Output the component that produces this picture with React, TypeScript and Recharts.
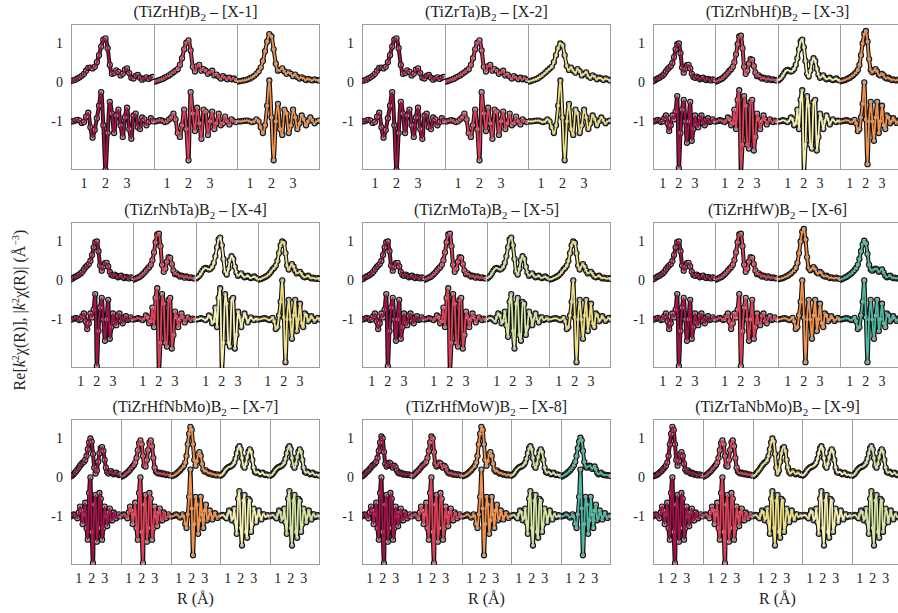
import { LineChart, Line, XAxis, YAxis } from "recharts";

// R grid (Å) shared by every sub-panel
const rGrid = [
  0.4, 0.5, 0.6, 0.7, 0.8, 0.9, 1.0, 1.1, 1.2, 1.3,
  1.4, 1.5, 1.6, 1.7, 1.8, 1.9, 2.0, 2.1, 2.2, 2.3,
  2.4, 2.5, 2.6, 2.7, 2.8, 2.9, 3.0, 3.1, 3.2, 3.3,
  3.4, 3.5, 3.6, 3.7, 3.8, 3.9, 4.0, 4.1, 4.2,
];

// |k²χ(R)| curves
const magA = [
  0.04, 0.05, 0.07, 0.1, 0.13, 0.17, 0.22, 0.3, 0.37, 0.38,
  0.36, 0.4, 0.52, 0.7, 0.92, 1.1, 1.13, 0.88, 0.45, 0.22,
  0.24, 0.31, 0.27, 0.18, 0.22, 0.33, 0.36, 0.24, 0.12, 0.1,
  0.17, 0.19, 0.12, 0.07, 0.1, 0.13, 0.09, 0.12, 0.14,
];
const magB = [
  0.02, 0.03, 0.05, 0.07, 0.09, 0.12, 0.15, 0.18, 0.22, 0.26,
  0.3, 0.34, 0.45, 0.62, 0.85, 1.02, 1.08, 0.82, 0.4, 0.28,
  0.42, 0.45, 0.3, 0.34, 0.3, 0.22, 0.26, 0.3, 0.18, 0.2,
  0.15, 0.1, 0.16, 0.12, 0.08, 0.12, 0.08, 0.1, 0.06,
];
const magC = [
  0.02, 0.03, 0.04, 0.05, 0.06, 0.08, 0.1, 0.13, 0.17, 0.22,
  0.28, 0.38, 0.55, 0.8, 1.05, 1.24, 1.18, 0.85, 0.48, 0.3,
  0.32, 0.36, 0.28, 0.22, 0.26, 0.22, 0.16, 0.2, 0.14, 0.1,
  0.13, 0.1, 0.06, 0.09, 0.07, 0.05, 0.08, 0.06, 0.05,
];
const magD = [
  0.02, 0.03, 0.05, 0.07, 0.09, 0.12, 0.16, 0.2, 0.25, 0.3,
  0.35, 0.4, 0.52, 0.7, 0.88, 1.0, 0.95, 0.7, 0.42, 0.32,
  0.38, 0.3, 0.25, 0.34, 0.28, 0.18, 0.22, 0.26, 0.16, 0.12,
  0.18, 0.14, 0.08, 0.12, 0.1, 0.06, 0.1, 0.08, 0.05,
];
const magE = [
  0.03, 0.05, 0.08, 0.1, 0.12, 0.15, 0.18, 0.22, 0.28, 0.34,
  0.38, 0.42, 0.5, 0.65, 0.85, 0.98, 1.0, 0.75, 0.38, 0.25,
  0.35, 0.44, 0.45, 0.36, 0.22, 0.14, 0.12, 0.15, 0.12, 0.08,
  0.1, 0.12, 0.08, 0.06, 0.09, 0.07, 0.05, 0.08, 0.06,
];
const magF = [
  0.02, 0.03, 0.05, 0.07, 0.09, 0.12, 0.16, 0.2, 0.25, 0.3,
  0.34, 0.4, 0.52, 0.72, 0.98, 1.18, 1.2, 0.88, 0.4, 0.22,
  0.3, 0.48, 0.6, 0.58, 0.42, 0.25, 0.16, 0.18, 0.14, 0.1,
  0.12, 0.1, 0.07, 0.1, 0.08, 0.06, 0.08, 0.06, 0.05,
];
const magG = [
  0.05, 0.08, 0.12, 0.18, 0.25, 0.3, 0.32, 0.3, 0.28, 0.3,
  0.35, 0.45, 0.62, 0.85, 1.05, 1.1, 0.9, 0.55, 0.22, 0.15,
  0.3, 0.52, 0.62, 0.55, 0.35, 0.2, 0.12, 0.15, 0.18, 0.12,
  0.08, 0.1, 0.12, 0.08, 0.06, 0.08, 0.1, 0.07, 0.05,
];
const magH = [
  0.03, 0.04, 0.05, 0.06, 0.08, 0.1, 0.12, 0.15, 0.18, 0.22,
  0.26, 0.32, 0.45, 0.7, 1.0, 1.25, 1.32, 1.05, 0.6, 0.32,
  0.26, 0.3, 0.34, 0.28, 0.2, 0.18, 0.22, 0.18, 0.12, 0.1,
  0.12, 0.09, 0.06, 0.08, 0.06, 0.05, 0.07, 0.05, 0.04,
];
const magI = [
  0.02, 0.03, 0.04, 0.06, 0.08, 0.1, 0.13, 0.17, 0.22, 0.28,
  0.32, 0.38, 0.5, 0.7, 0.9, 1.0, 0.96, 0.7, 0.38, 0.28,
  0.36, 0.42, 0.35, 0.25, 0.18, 0.2, 0.22, 0.16, 0.1, 0.08,
  0.1, 0.12, 0.08, 0.05, 0.07, 0.05, 0.04, 0.06, 0.04,
];
const magJ = [
  0.03, 0.05, 0.08, 0.12, 0.16, 0.2, 0.25, 0.3, 0.34, 0.38,
  0.4, 0.45, 0.55, 0.72, 0.9, 1.0, 0.92, 0.6, 0.25, 0.1,
  0.18, 0.4, 0.62, 0.75, 0.78, 0.68, 0.45, 0.25, 0.14, 0.1,
  0.14, 0.16, 0.12, 0.08, 0.1, 0.12, 0.08, 0.06, 0.08,
];
const magK = [
  0.02, 0.03, 0.05, 0.07, 0.1, 0.13, 0.16, 0.2, 0.24, 0.28,
  0.32, 0.38, 0.5, 0.7, 0.88, 0.95, 0.85, 0.55, 0.3, 0.28,
  0.45, 0.7, 0.9, 0.95, 0.8, 0.5, 0.25, 0.15, 0.12, 0.1,
  0.12, 0.1, 0.08, 0.1, 0.08, 0.06, 0.08, 0.06, 0.05,
];
const magL = [
  0.03, 0.04, 0.05, 0.07, 0.09, 0.12, 0.15, 0.18, 0.22, 0.26,
  0.3, 0.38, 0.55, 0.85, 1.12, 1.3, 1.22, 0.85, 0.45, 0.3,
  0.42, 0.6, 0.65, 0.55, 0.35, 0.2, 0.15, 0.18, 0.14, 0.1,
  0.12, 0.1, 0.07, 0.09, 0.07, 0.05, 0.08, 0.06, 0.05,
];
const magM = [
  0.04, 0.06, 0.09, 0.13, 0.18, 0.22, 0.25, 0.27, 0.28, 0.3,
  0.33, 0.38, 0.48, 0.62, 0.75, 0.8, 0.72, 0.5, 0.3, 0.25,
  0.35, 0.52, 0.66, 0.72, 0.65, 0.45, 0.25, 0.14, 0.12, 0.15,
  0.12, 0.08, 0.1, 0.12, 0.08, 0.06, 0.08, 0.06, 0.05,
];
const magN = [
  0.03, 0.05, 0.08, 0.12, 0.15, 0.18, 0.22, 0.26, 0.3, 0.33,
  0.36, 0.4, 0.5, 0.68, 0.9, 1.05, 1.0, 0.65, 0.35, 0.28,
  0.32, 0.38, 0.36, 0.28, 0.25, 0.3, 0.26, 0.18, 0.12, 0.1,
  0.12, 0.1, 0.07, 0.09, 0.08, 0.06, 0.08, 0.06, 0.05,
];
const magO = [
  0.02, 0.03, 0.05, 0.07, 0.09, 0.12, 0.15, 0.18, 0.22, 0.27,
  0.32, 0.4, 0.55, 0.75, 0.92, 1.02, 0.95, 0.68, 0.4, 0.28,
  0.25, 0.28, 0.3, 0.28, 0.22, 0.25, 0.28, 0.2, 0.12, 0.08,
  0.1, 0.12, 0.08, 0.06, 0.07, 0.05, 0.06, 0.05, 0.04,
];

// Re[k²χ(R)] curves, already shifted by -1
const reA = [
  -1.0, -1.0, -0.98, -0.96, -0.98, -1.04, -1.02, -0.88, -0.78, -1.15,
  -1.42, -1.22, -0.92, -0.6, -0.25, -1.1, -2.25, -1.3, -0.5, -0.8,
  -1.3, -0.85, -0.7, -1.1, -1.4, -0.9, -0.65, -1.2, -1.45, -0.85,
  -0.8, -1.15, -1.2, -0.9, -0.95, -1.1, -1.02, -0.92, -1.0,
];
const reB = [
  -1.0, -1.0, -0.98, -0.97, -0.99, -1.02, -1.0, -0.95, -0.9, -0.8,
  -0.95, -1.3, -1.4, -1.1, -0.7, -1.2, -2.0, -0.25, -0.8, -1.25,
  -0.65, -1.05, -1.45, -0.7, -0.75, -1.35, -1.0, -0.75, -1.2, -1.05,
  -0.8, -1.1, -1.05, -0.88, -1.0, -1.08, -0.95, -1.0, -1.02,
];
const reC = [
  -1.0, -1.0, -1.0, -0.99, -0.98, -0.98, -1.0, -1.02, -1.0, -0.95,
  -1.0, -1.15, -1.3, -1.1, -0.6, 0.05, -0.9, -2.0, -1.0, -0.55,
  -1.2, -1.35, -0.7, -0.8, -1.3, -1.1, -0.7, -0.9, -1.2, -1.05,
  -0.85, -0.95, -1.1, -1.0, -0.9, -0.98, -1.05, -1.0, -0.98,
];
const reD = [
  -1.0, -1.0, -0.98, -0.96, -0.98, -1.02, -1.0, -0.92, -0.85, -1.05,
  -1.25, -1.1, -0.85, -0.95, -0.75, -0.35, -2.2, -1.3, -0.7, -0.45,
  -1.0, -1.55, -1.0, -0.5, -1.5, -1.2, -0.85, -1.1, -1.15, -0.9,
  -0.85, -1.05, -1.1, -0.95, -0.92, -1.02, -1.0, -0.95, -1.0,
];
const reE = [
  -1.0, -1.0, -0.99, -0.97, -0.98, -1.0, -1.02, -0.98, -0.9, -0.95,
  -1.1, -1.05, -0.7, -1.2, -0.45, -0.2, -2.3, -1.6, -0.35, -0.6,
  -1.6, -1.7, -0.5, -0.45, -1.75, -1.4, -0.8, -0.95, -1.2, -1.0,
  -0.85, -0.95, -1.08, -1.0, -0.95, -1.0, -1.02, -0.98, -1.0,
];
const reF = [
  -1.0, -1.0, -0.99, -0.98, -0.97, -0.98, -1.0, -1.02, -1.0, -0.96,
  -1.05, -1.25, -1.2, -0.9, -0.55, 0.0, -0.95, -2.1, -1.0, -0.5,
  -1.0, -1.5, -0.9, -0.5, -1.3, -1.0, -0.6, -1.1, -1.2, -0.85,
  -0.9, -1.05, -1.0, -0.92, -0.98, -1.04, -1.0, -0.96, -1.0,
];
const reG = [
  -1.0, -0.98, -0.95, -0.96, -1.0, -1.05, -0.9, -0.75, -0.85, -1.2,
  -0.95, -0.65, -1.3, -1.6, -0.4, 0.0, -1.4, -2.2, -0.7, -0.45,
  -1.65, -1.3, -0.4, -0.55, -1.6, -1.3, -0.75, -1.0, -1.25, -0.9,
  -0.8, -1.1, -1.1, -0.9, -0.95, -1.05, -1.0, -0.95, -1.0,
];
const reH = [
  -1.0, -1.0, -0.99, -0.97, -0.95, -0.97, -1.0, -1.03, -1.0, -0.95,
  -1.0, -1.2, -1.3, -0.95, -0.5, 0.2, -0.8, -2.0, -1.2, -0.5,
  -0.7, -1.45, -1.1, -0.5, -0.95, -1.3, -0.85, -0.7, -1.1, -1.05,
  -0.85, -0.95, -1.08, -1.0, -0.92, -1.0, -1.04, -0.98, -1.0,
];
const reI = [
  -1.0, -0.98, -0.96, -0.98, -1.02, -1.05, -0.95, -0.85, -0.9, -1.1,
  -1.05, -0.8, -1.15, -1.45, -0.55, -0.35, -1.3, -1.75, -0.6, -0.45,
  -1.4, -1.55, -0.55, -0.6, -1.4, -1.2, -0.8, -0.9, -1.15, -1.0,
  -0.85, -1.0, -1.08, -0.95, -0.95, -1.02, -1.0, -0.97, -1.0,
];

const elementColors: Record<string, string> = {
  Ti: "#a8124a",
  Zr: "#e0405a",
  Hf: "#f5924a",
  Ta: "#efe184",
  Nb: "#f6f2b2",
  Mo: "#d4e8a4",
  W: "#4dbaa2",
};

const panelNames = [
  "TiZrHf", "TiZrTa", "TiZrNbHf",
  "TiZrNbTa", "TiZrMoTa", "TiZrHfW",
  "TiZrHfNbMo", "TiZrHfMoW", "TiZrTaNbMo",
];
const panelTags = ["X-1", "X-2", "X-3", "X-4", "X-5", "X-6", "X-7", "X-8", "X-9"];
const panelElements = [
  ["Ti", "Zr", "Hf"],
  ["Ti", "Zr", "Ta"],
  ["Ti", "Zr", "Nb", "Hf"],
  ["Ti", "Zr", "Nb", "Ta"],
  ["Ti", "Zr", "Mo", "Ta"],
  ["Ti", "Zr", "Hf", "W"],
  ["Ti", "Zr", "Hf", "Nb", "Mo"],
  ["Ti", "Zr", "Hf", "Mo", "W"],
  ["Ti", "Zr", "Ta", "Nb", "Mo"],
];
const panelMag = [
  [magA, magB, magC],
  [magA, magB, magD],
  [magE, magF, magG, magH],
  [magE, magF, magG, magI],
  [magE, magF, magG, magI],
  [magE, magF, magH, magO],
  [magJ, magK, magL, magM, magM],
  [magN, magN, magL, magM, magO],
  [magL, magK, magJ, magM, magM],
];
const panelRe = [
  [reA, reB, reC],
  [reA, reB, reC],
  [reD, reE, reE, reF],
  [reD, reE, reE, reF],
  [reD, reE, reI, reF],
  [reD, reD, reF, reF],
  [reG, reG, reH, reI, reI],
  [reG, reG, reH, reI, reH],
  [reG, reG, reI, reI, reI],
];

const FONT = "'Liberation Serif', 'DejaVu Serif', serif";
const TEXT = "#222";
const FRAME = "#9c9c9c";
const colLeft = [71, 362, 653];
const rowTop = [24, 222, 419];
const PANEL_W = 249;
const PLOT_H = 146;
const AXIS_H = 24;
const Y_AXIS_W = 24;
const R_DOMAIN: [number, number] = [0.4, 4.25];
const Y_DOMAIN: [number, number] = [-2.25, 1.5];

interface SubProps {
  mag: number[];
  re: number[];
  color: string;
  left: number;
  top: number;
  width: number;
  showY: boolean;
}

// data (black, open circles) is drawn in one chart, the coloured fit in a
// second identical chart on top so the fit line stays visible over the dots
function SubPanel({ mag, re, color, left, top, width, showY }: SubProps) {
  const data = rGrid.map((r, i) => ({ r, mag: mag[i], re: re[i] }));
  const yw = showY ? Y_AXIS_W : 0;
  const dot = { r: 2.6, fill: "#a8a8a8", stroke: "#141414", strokeWidth: 1.1 };
  const tickStyle = { fontSize: 14, fill: TEXT, fontFamily: FONT };
  const size = { width: width + yw, height: PLOT_H + AXIS_H };
  const margin = { top: 0, right: 0, bottom: 0, left: 0 };
  return (
    <div style={{ position: "absolute", left: left - yw, top, ...size }}>
      <div style={{ position: "absolute", left: 0, top: 0 }}>
        <LineChart {...size} data={data} margin={margin}>
          <XAxis
            dataKey="r"
            type="number"
            domain={R_DOMAIN}
            ticks={[1, 2, 3]}
            allowDataOverflow
            axisLine={false}
            tickLine={false}
            height={AXIS_H}
            tick={tickStyle}
          />
          <YAxis
            hide={!showY}
            width={yw}
            domain={Y_DOMAIN}
            ticks={[-1, 0, 1]}
            allowDataOverflow
            axisLine={false}
            tickLine={false}
            tick={tickStyle}
          />
          <Line
            type="monotone"
            dataKey="mag"
            stroke="#141414"
            strokeWidth={4}
            dot={dot}
            isAnimationActive={false}
          />
          <Line
            type="monotone"
            dataKey="re"
            stroke="#141414"
            strokeWidth={4}
            dot={dot}
            isAnimationActive={false}
          />
        </LineChart>
      </div>
      <div style={{ position: "absolute", left: 0, top: 0 }}>
        <LineChart {...size} data={data} margin={margin}>
          <XAxis
            dataKey="r"
            type="number"
            domain={R_DOMAIN}
            allowDataOverflow
            axisLine={false}
            tickLine={false}
            tick={false}
            height={AXIS_H}
          />
          <YAxis
            hide={!showY}
            width={yw}
            domain={Y_DOMAIN}
            allowDataOverflow
            axisLine={false}
            tickLine={false}
            tick={false}
          />
          <Line
            type="monotone"
            dataKey="mag"
            stroke={color}
            strokeWidth={1.8}
            dot={false}
            isAnimationActive={false}
          />
          <Line
            type="monotone"
            dataKey="re"
            stroke={color}
            strokeWidth={1.8}
            dot={false}
            isAnimationActive={false}
          />
        </LineChart>
      </div>
    </div>
  );
}

function Panel({ index }: { index: number }) {
  const row = Math.floor(index / 3);
  const col = index % 3;
  const left = colLeft[col];
  const top = rowTop[row];
  const elements = panelElements[index];
  const n = elements.length;
  const subW = PANEL_W / n;
  return (
    <>
      <div
        style={{
          position: "absolute",
          left: left,
          top: top - 21,
          width: PANEL_W,
          textAlign: "center",
          fontFamily: FONT,
          fontSize: 16,
          lineHeight: "18px",
          color: TEXT,
          whiteSpace: "nowrap",
        }}
      >
        ({panelNames[index]})B<sub style={{ fontSize: 11, lineHeight: 0 }}>2</sub> – [{panelTags[index]}]
      </div>
      <div
        style={{
          position: "absolute",
          left: left,
          top: top,
          width: PANEL_W - 2,
          height: PLOT_H - 2,
          border: `1px solid ${FRAME}`,
        }}
      />
      {elements.slice(1).map((el, i) => (
        <div
          key={"d" + el + i}
          style={{
            position: "absolute",
            left: left + (i + 1) * subW,
            top: top,
            width: 1,
            height: PLOT_H,
            background: FRAME,
          }}
        />
      ))}
      {elements.map((el, i) => (
        <SubPanel
          key={el + i}
          mag={panelMag[index][i]}
          re={panelRe[index][i]}
          color={elementColors[el]}
          left={left + i * subW}
          top={top}
          width={subW}
          showY={i === 0}
        />
      ))}
      {row === 2 && (
        <div
          style={{
            position: "absolute",
            left: left,
            top: 590,
            width: PANEL_W,
            textAlign: "center",
            fontFamily: FONT,
            fontSize: 16,
            lineHeight: "18px",
            color: TEXT,
          }}
        >
          R (Å)
        </div>
      )}
    </>
  );
}

export default function App() {
  const supStyle = { fontSize: 10, lineHeight: 0 };
  return (
    <div
      style={{
        position: "absolute",
        left: 0,
        top: 0,
        width: 898,
        height: 613,
        overflow: "hidden",
        background: "#fff",
      }}
    >
      {panelNames.map((_, i) => (
        <Panel key={i} index={i} />
      ))}
      <div
        style={{
          position: "absolute",
          left: 20 - 150,
          top: 310 - 9,
          width: 300,
          height: 18,
          textAlign: "center",
          transform: "rotate(-90deg)",
          fontFamily: FONT,
          fontSize: 16,
          lineHeight: "18px",
          color: TEXT,
          whiteSpace: "nowrap",
        }}
      >
        Re[<i>k</i>
        <sup style={supStyle}>2</sup>χ(R)], |<i>k</i>
        <sup style={supStyle}>2</sup>χ(R)| (Å<sup style={supStyle}>−3</sup>)
      </div>
    </div>
  );
}
